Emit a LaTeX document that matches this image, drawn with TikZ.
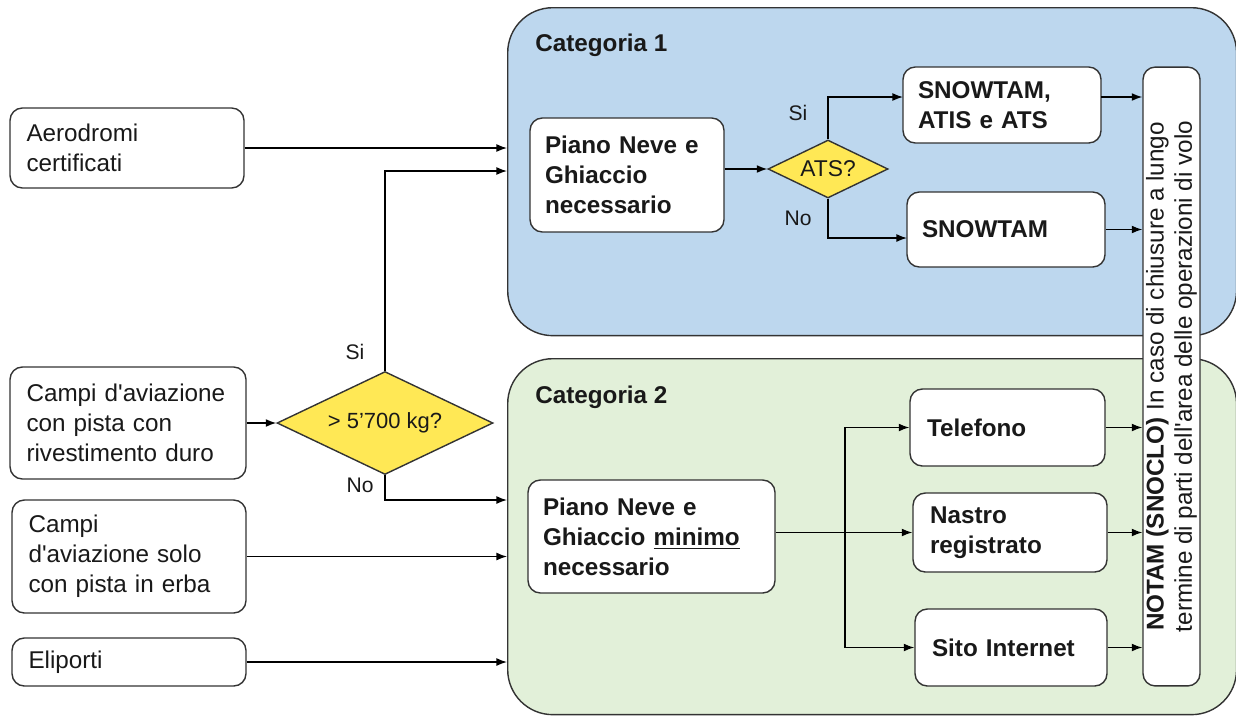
\documentclass[tikz,border=0pt]{standalone}
\usepackage{fontspec}
\setmainfont{Liberation Sans}
\usetikzlibrary{shapes.geometric,arrows.meta}
\definecolor{catblue}{RGB}{189,215,238}
\definecolor{catgreen}{RGB}{226,240,217}
\definecolor{askyellow}{RGB}{255,232,85}
\tikzset{
  box/.style={draw=black!80, line width=0.8pt, rounded corners=7pt, fill=white, align=left,
    inner xsep=0.33cm, inner ysep=0pt, text=black!90, font=\fontsize{13.8}{17}\selectfont},
  boldbox/.style={box, inner xsep=0.3cm, font=\fontsize{13.8}{17}\selectfont\bfseries},
  panel/.style={draw=black!80, line width=0.8pt, rounded corners=0.9cm, inner sep=0pt},
  title/.style={inner sep=0pt, text=black!90, font=\fontsize{13.8}{17}\selectfont\bfseries},
  ask/.style={diamond, draw=black!80, line width=0.8pt, fill=askyellow, inner sep=0pt, text=black!90},
  lbl/.style={text=black!90, font=\fontsize{12}{14}\selectfont},
  arr/.style={-{Latex[length=6pt,width=4.5pt]}, line width=0.8pt}
}
\begin{document}
\begin{tikzpicture}[x=0.02cm, y=-0.02cm]
    \useasboundingbox (0,0) rectangle (1236,717);

    %% CATEGORIE
    % Categoria 1
    \node[panel, fill=catblue, anchor=north west, minimum width=14.58cm, minimum height=6.56cm] (cat1) at (507,7) {};
    \node[title, anchor=west] (cat1title) at (535,45) {Categoria 1};
    % Categoria 2
    \node[panel, fill=catgreen, anchor=north west, minimum width=14.58cm, minimum height=7.12cm] (cat2) at (507,358) {};
    \node[title, anchor=west] (cat2title) at (535,397) {Categoria 2};

    %% TIPI DI AERODROMO
    \node[box, text width=4.02cm, minimum height=1.6cm] (aero) at (127,148) {Aerodromi\\certificati};
    \node[box, text width=4.06cm, minimum height=2.24cm] (campi1) at (128,423) {Campi d\textquotesingle aviazione\\con pista con\\rivestimento duro};
    \node[box, text width=4.02cm, minimum height=2.26cm] (campi2) at (129,556.5) {Campi\\d\textquotesingle aviazione solo\\con pista in erba};
    \node[box, text width=4.02cm, minimum height=0.96cm] (elip) at (129,662) {Eliporti};

    % Domanda peso
    \node[ask, aspect=2.1, minimum width=4.32cm, minimum height=2.06cm, font=\fontsize{12.5}{14}\selectfont] (gate) at (385,423) {> 5'700 kg?};
    \node[lbl] (gatesi) at (355,352) {Si};
    \node[lbl] (gateno) at (360,485) {No};
    \coordinate (in1) at (507,171);
    \coordinate (in2) at (507,500);

    % Frecce verso le categorie
    \draw[arr] (aero.east) -- (aero.east -| cat1.west);
    \draw[arr] (campi1.east) -- (gate.west);
    \draw[arr] (gate.north) |- (in1);
    \draw[arr] (gate.south) |- (in2);
    \draw[arr] (campi2.east) -- (campi2.east -| cat2.west);
    \draw[arr] (elip.east) -- (elip.east -| cat2.west);

    %% NOTAM
    \node[box, rotate=90, align=center, inner sep=0pt, minimum width=12.38cm, minimum height=1.14cm,
      font=\fontsize{13.8}{16}\selectfont] (notam) at (1171.5,376.5)
      {\textbf{NOTAM (SNOCLO)} In caso di chiusure a lungo\\termine di parti dell\textquotesingle area delle operazioni di volo};

    %% CATEGORIA 1
    \node[boldbox, text width=3.28cm, minimum height=2.28cm] (pn1) at (627,175) {Piano Neve e\\Ghiaccio\\necessario};
    \node[ask, aspect=2, minimum width=2.4cm, minimum height=1.16cm, font=\fontsize{13}{15}\selectfont] (ats) at (828,169) {ATS?};
    \node[lbl] (atssi) at (798,113) {Si};
    \node[lbl] (atsno) at (798,218) {No};
    \node[boldbox, text width=3.36cm, minimum height=1.52cm] (snow1) at (1002,105) {SNOWTAM,\\ATIS e ATS};
    \node[boldbox, text width=3.36cm, minimum height=1.5cm] (snow2) at (1006,229.5) {SNOWTAM};
    \coordinate (s1in) at (903,97);
    \coordinate (s1out) at (1101,97);
    \coordinate (s2in) at (907,238);

    \draw[arr] (pn1.east |- ats.west) -- (ats.west);
    \draw[arr] (ats.north) |- (s1in);
    \draw[arr] (ats.south) |- (s2in);
    \draw[arr] (s1out) -- (s1out -| notam.north);
    \draw[arr] (snow2.east) -- (snow2.east -| notam.north);

    %% CATEGORIA 2
    \node[boldbox, text width=4.34cm, minimum height=2.26cm] (pn2) at (651.5,536.5) {Piano Neve e\\Ghiaccio \underline{minimo}\\necessario};
    \node[boldbox, inner xsep=0.34cm, text width=3.22cm, minimum height=1.54cm] (tel) at (1007.5,427.5) {Telefono};
    \node[boldbox, inner xsep=0.34cm, text width=3.2cm, minimum height=1.58cm] (nastro) at (1010,532.5) {Nastro\\registrato};
    \node[boldbox, inner xsep=0.34cm, text width=3.16cm, minimum height=1.54cm] (sito) at (1011,647.5) {Sito Internet};
    \coordinate (jn) at (845,532.5);

    \draw[arr] (nastro.west -| pn2.east) -- (nastro.west);
    \draw[arr] (jn) |- (tel.west);
    \draw[arr] (jn) |- (sito.west);
    \draw[arr] (tel.east) -- (tel.east -| notam.north);
    \draw[arr] (nastro.east) -- (nastro.east -| notam.north);
    \draw[arr] (sito.east) -- (sito.east -| notam.north);
\end{tikzpicture}
\end{document}
